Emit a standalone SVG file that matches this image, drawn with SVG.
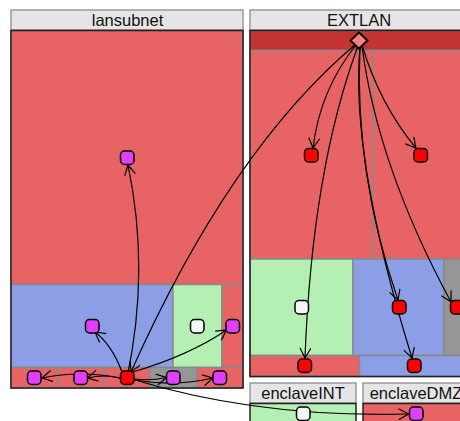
<svg xmlns="http://www.w3.org/2000/svg" width="460" height="421" viewBox="0 0 460 421">
<style>
.hd{fill:#e5e5e5;stroke:#999;stroke-width:1.5}
.frame{fill:none;stroke:#222;stroke-width:1.5}
.cell{stroke:#888;stroke-width:1.5}
.r{fill:#e86464}.dr{fill:#c53232}.b{fill:#8c9fe6}.g{fill:#b4f0b4}.y{fill:#969696}
.t{font:16.5px "Liberation Sans",Arial,sans-serif;fill:#111;text-anchor:middle}
.n{stroke:#000;stroke-width:1.5;width:13.500px;height:13.500px;rx:4px}
.red{fill:#f00}.mag{fill:#e040fb}.wht{fill:#f5f5f5}
.c{fill:none;stroke:#000;stroke-width:1.2;marker-end:url(#a)}
</style>
<defs>
<marker id="a" viewBox="-11 -6 12 12" refX="0" refY="0" markerWidth="12" markerHeight="12" markerUnits="userSpaceOnUse" orient="auto"><path d="M-10-5.500L0 0L-10 5.500" fill="none" stroke="#000" stroke-width="1.2"/></marker>
</defs>
<g id="lansubnet">
<rect class="hd" x="11" y="10" width="232" height="20"/>
<text class="t" x="127.500" y="25.500">lansubnet</text>
<rect class="cell r" x="11" y="30.500" width="232" height="254"/>
<rect class="cell b" x="11" y="284.500" width="162" height="83"/>
<rect class="cell g" x="173" y="284.500" width="49" height="83"/>
<rect class="cell r" x="222" y="284.500" width="21" height="83"/>
<rect class="cell r" x="11" y="367.500" width="47" height="20.500"/>
<rect class="cell r" x="58" y="367.500" width="46" height="20.500"/>
<rect class="cell r" x="104" y="367.500" width="46" height="20.500"/>
<rect class="cell y" x="150" y="367.500" width="47" height="20.500"/>
<rect class="cell r" x="197" y="367.500" width="46" height="20.500"/>
<rect class="frame" x="11" y="30.500" width="232" height="357.500"/>
</g>
<g id="EXTLAN">
<rect class="hd" x="250" y="10" width="214" height="20"/>
<text class="t" x="359" y="25.500">EXTLAN</text>
<rect class="cell dr" x="250" y="30.500" width="214" height="20"/>
<rect class="cell r" x="250" y="50.500" width="123" height="208.500"/>
<rect class="cell r" x="373" y="50.500" width="91" height="208.500"/>
<rect class="cell g" x="250" y="259" width="103" height="96.500"/>
<rect class="cell b" x="353" y="259" width="91" height="96.500"/>
<rect class="cell y" x="444" y="259" width="20" height="96.500"/>
<rect class="cell r" x="250" y="355.500" width="109.500" height="21"/>
<rect class="cell b" x="359.500" y="355.500" width="105" height="21"/>
<path class="frame" d="M464 30.500H250V376.500H464"/>
</g>
<g id="enclaveINT">
<rect class="hd" x="250" y="383" width="106" height="20"/>
<text class="t" x="303" y="398.500">enclaveINT</text>
<rect class="g" x="250" y="403.500" width="106" height="20"/>
<path class="frame" d="M250 424V403.500H356V424"/>
</g>
<g id="enclaveDMZ">
<rect class="hd" x="363" y="383" width="104" height="20"/>
<text class="t" x="416" y="398.500">enclaveDMZ</text>
<rect class="r" x="363" y="403.500" width="104" height="20"/>
<path class="frame" d="M363 424V403.500H467"/>
</g>
<g id="connectors">
<path class="c" d="M127 378Q150 270 128 165"/>
<path class="c" d="M122 372Q112 345 95 332"/>
<path class="c" d="M133 372Q190 355 226.500 330"/>
<path class="c" d="M120 378Q80 370 42 378"/>
<path class="c" d="M120 378Q105 374 87.500 378"/>
<path class="c" d="M135 379Q150 381 166.500 377.500"/>
<path class="c" d="M135 380Q175 387 213 378"/>
<path class="c" d="M135 380Q260 418 408.500 414"/>
<path class="c" d="M356 44Q230 150 131 372"/>
<path class="c" d="M356 45Q320 90 313 148"/>
<path class="c" d="M362 45Q380 105 416 148"/>
<path class="c" d="M358 46Q312 170 305 358"/>
<path class="c" d="M360 46Q354 173 398 300"/>
<path class="c" d="M360 46Q350 158 412 358"/>
<path class="c" d="M362 46Q377.500 166 451 302"/>
</g>
<g id="nodes">
<rect id="n1" class="n mag" x="120.500" y="151" /><rect id="n2" class="n mag" x="85.500" y="319.500"/><rect id="n3" class="n mag" x="226" y="319.500"/><rect id="n4" class="n wht" x="190.500" y="319.500"/>
<rect id="n5" class="n mag" x="27.500" y="371"/><rect id="n6" class="n mag" x="74" y="371"/><rect id="n7" class="n red" x="120.500" y="371"/><rect id="n8" class="n mag" x="166.500" y="371"/><rect id="n9" class="n mag" x="213" y="371"/>
<path id="n10" d="M359 32.500L367.500 40.500L359 48.500L350.500 40.500Z" fill="#ff8080" stroke="#000" stroke-width="1.8"/>
<rect id="n11" class="n red" x="304.500" y="148.500"/><rect id="n12" class="n red" x="414" y="148.500"/><rect id="n13" class="n wht" x="295" y="300.500"/><rect id="n14" class="n red" x="392.500" y="300.500"/><rect id="n15" class="n red" x="450.500" y="300.500"/><rect id="n16" class="n red" x="298" y="359"/><rect id="n17" class="n red" x="407.500" y="359"/>
<rect id="n18" class="n wht" x="296.500" y="407"/><rect id="n19" class="n mag" x="409.500" y="407"/>
</g>
</svg>
